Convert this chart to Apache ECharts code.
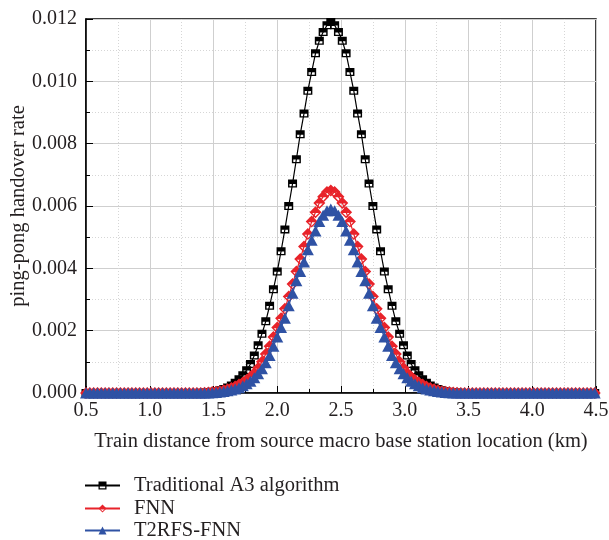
<!DOCTYPE html>
<html>
<head>
<meta charset="utf-8">
<script src="https://cdn.jsdelivr.net/npm/echarts@6/dist/echarts.min.js"></script>
<style>html,body{margin:0;padding:0;background:#fff;}#c{width:609px;height:540px;}</style>
</head>
<body>
<div id="c"></div>
<script>
const distance = [
0.50,0.53,0.56,0.59,0.62,0.65,0.68,0.71,0.74,0.77,
0.80,0.83,0.86,0.89,0.92,0.95,0.98,1.01,1.04,1.07,
1.10,1.13,1.16,1.19,1.22,1.25,1.28,1.31,1.34,1.37,
1.40,1.43,1.46,1.49,1.52,1.55,1.58,1.61,1.64,1.67,
1.70,1.73,1.76,1.79,1.82,1.85,1.88,1.91,1.94,1.97,
2.00,2.03,2.06,2.09,2.12,2.15,2.18,2.21,2.24,2.27,
2.30,2.33,2.36,2.39,2.42,2.45,2.48,2.51,2.54,2.57,
2.60,2.63,2.66,2.69,2.72,2.75,2.78,2.81,2.84,2.87,
2.90,2.93,2.96,2.99,3.02,3.05,3.08,3.11,3.14,3.17,
3.20,3.23,3.26,3.29,3.32,3.35,3.38,3.41,3.44,3.47,
3.50,3.53,3.56,3.59,3.62,3.65,3.68,3.71,3.74,3.77,
3.80,3.83,3.86,3.89,3.92,3.95,3.98,4.01,4.04,4.07,
4.10,4.13,4.16,4.19,4.22,4.25,4.28,4.31,4.34,4.37,
4.40,4.43,4.46,4.49];

const traditionalA3 = [
0,0,0,0,0,0,0,0,0,0,
0,0,0,0,0,0,0,0,0,0,
0,0,0,0,0,0,0,0,0,0,
0.00001,0.00002,0.00003,0.00004,0.00006,0.00009,0.00013,0.00018,0.00024,0.00033,
0.00044,0.00057,0.00073,0.00093,0.00120,0.00153,0.00190,0.00230,0.00280,0.00333,
0.00390,0.00455,0.00525,0.00600,0.00672,0.00750,0.00830,0.00897,0.00970,0.01030,
0.01090,0.01130,0.01158,0.01180,0.01190,0.01180,0.01158,0.01130,0.01090,0.01030,
0.00970,0.00897,0.00830,0.00750,0.00672,0.00600,0.00525,0.00455,0.00390,0.00333,
0.00280,0.00230,0.00190,0.00153,0.00120,0.00093,0.00073,0.00057,0.00044,0.00033,
0.00024,0.00018,0.00013,0.00009,0.00006,0.00004,0.00003,0.00002,0.00001,0,
0,0,0,0,0,0,0,0,0,0,
0,0,0,0,0,0,0,0,0,0,
0,0,0,0,0,0,0,0,0,0,
0,0,0,0];

const fnn = [
0,0,0,0,0,0,0,0,0,0,
0,0,0,0,0,0,0,0,0,0,
0,0,0,0,0,0,0,0,0,0,
0,0.00001,0.00002,0.00003,0.00004,0.00006,0.00009,0.00012,0.00016,0.00021,
0.00027,0.00034,0.00042,0.00052,0.00063,0.00080,0.00100,0.00125,0.00150,0.00180,
0.00210,0.00240,0.00270,0.00310,0.00350,0.00390,0.00430,0.00470,0.00510,0.00550,
0.00580,0.00610,0.00630,0.00645,0.00650,0.00645,0.00630,0.00610,0.00580,0.00550,
0.00510,0.00470,0.00430,0.00390,0.00350,0.00310,0.00270,0.00240,0.00210,0.00180,
0.00150,0.00125,0.00100,0.00080,0.00063,0.00052,0.00042,0.00034,0.00027,0.00021,
0.00016,0.00012,0.00009,0.00006,0.00004,0.00003,0.00002,0.00001,0,0,
0,0,0,0,0,0,0,0,0,0,
0,0,0,0,0,0,0,0,0,0,
0,0,0,0,0,0,0,0,0,0,
0,0,0,0];

const t2rfsFnn = [
0,0,0,0,0,0,0,0,0,0,
0,0,0,0,0,0,0,0,0,0,
0,0,0,0,0,0,0,0,0,0,
0,0,0,0.00001,0.00002,0.00003,0.00005,0.00007,0.00010,0.00013,
0.00017,0.00023,0.00030,0.00038,0.00049,0.00062,0.00078,0.00097,0.00120,0.00150,
0.00180,0.00210,0.00240,0.00280,0.00320,0.00360,0.00390,0.00420,0.00460,0.00490,
0.00520,0.00550,0.00570,0.00585,0.00590,0.00585,0.00570,0.00550,0.00520,0.00490,
0.00460,0.00420,0.00390,0.00360,0.00320,0.00280,0.00240,0.00210,0.00180,0.00150,
0.00120,0.00097,0.00078,0.00062,0.00049,0.00038,0.00030,0.00023,0.00017,0.00013,
0.00010,0.00007,0.00005,0.00003,0.00002,0.00001,0,0,0,0,
0,0,0,0,0,0,0,0,0,0,
0,0,0,0,0,0,0,0,0,0,
0,0,0,0,0,0,0,0,0,0,
0,0,0,0];

const seriesNames = ['Traditional A3 algorithm', 'FNN', 'T2RFS-FNN'];

const FONT = 'Liberation Serif';
const TXT = '#231f20';
const BLACK = '#000000';
const RED = '#e8232a';
const BLUE = '#2f52a4';

function pairs(ys) { return distance.map((x, i) => [x, ys[i]]); }

const halfSquare = 'path://M0,0 L10,0 L10,10 L0,10 Z M1.6,5.4 L1.6,8.4 L8.4,8.4 L8.4,5.4 Z';
const halfDiamond = 'path://M5,0 L10,5 L5,10 L0,5 Z M2.2,5.6 L5,8.4 L7.8,5.6 Z';

const legendRowsTop = [475, 498, 520];
function legendRow(name, i) {
  return {
    orient: 'horizontal', left: 84, top: legendRowsTop[i], padding: 0,
    itemWidth: 35, itemHeight: 10,
    textStyle: {fontFamily: FONT, fontSize: 20.5, color: TXT, padding: [0, 0, 0, 9]},
    data: [name]
  };
}

const chart = echarts.init(document.getElementById('c'), null, {renderer: 'canvas'});
chart.setOption({
  animation: false,
  backgroundColor: '#fff',
  textStyle: {fontFamily: FONT, color: TXT},
  grid: {left: 86, right: 13, top: 19, bottom: 147, show: true, borderColor: '#000', borderWidth: 1.5,
         backgroundColor: 'transparent', containLabel: false, outerBoundsMode: 'none'},
  xAxis: {
    type: 'value', min: 0.5, max: 4.5, interval: 0.5,
    name: 'Train distance from source macro base station location (km)',
    nameLocation: 'middle', nameGap: 38, nameMoveOverlap: false,
    nameTextStyle: {fontFamily: FONT, fontSize: 20.5, color: TXT},
    axisLine: {show: true, lineStyle: {color: '#000', width: 1.5}},
    axisTick: {show: true, inside: true, length: 7, lineStyle: {color: '#000'}},
    minorTick: {show: true, splitNumber: 2, length: 4, lineStyle: {color: '#000'}},
    axisLabel: {fontFamily: FONT, fontSize: 20, color: TXT, margin: 8, formatter: v => v.toFixed(1)},
    splitLine: {show: true, lineStyle: {color: '#cfcfcf', width: 1}},
    minorSplitLine: {show: true, lineStyle: {color: '#d6d6d6', width: 1, type: [1, 2]}}
  },
  yAxis: {
    type: 'value', min: 0, max: 0.012, interval: 0.002,
    name: 'ping-pong handover rate',
    nameLocation: 'middle', nameGap: 57, nameMoveOverlap: false,
    nameTextStyle: {fontFamily: FONT, fontSize: 20.5, color: TXT},
    axisLine: {show: true, lineStyle: {color: '#000', width: 1.5}},
    axisTick: {show: true, inside: true, length: 7, lineStyle: {color: '#000'}},
    minorTick: {show: true, splitNumber: 2, length: 4, lineStyle: {color: '#000'}},
    axisLabel: {fontFamily: FONT, fontSize: 20, color: TXT, margin: 9, formatter: v => v.toFixed(3)},
    splitLine: {show: true, lineStyle: {color: '#cfcfcf', width: 1}},
    minorSplitLine: {show: true, lineStyle: {color: '#d6d6d6', width: 1, type: [1, 2]}}
  },
  legend: seriesNames.map(legendRow),
  series: [
    {
      name: seriesNames[0], type: 'line', data: pairs(traditionalA3),
      symbol: halfSquare, symbolSize: [9, 8], showAllSymbol: true,
      lineStyle: {color: BLACK, width: 1.2}, itemStyle: {color: BLACK},
      z: 2
    },
    {
      name: seriesNames[1], type: 'line', data: pairs(fnn),
      symbol: halfDiamond, symbolSize: [12, 12], showAllSymbol: true,
      lineStyle: {color: RED, width: 1.2}, itemStyle: {color: RED},
      z: 3
    },
    {
      name: seriesNames[2], type: 'line', data: pairs(t2rfsFnn),
      symbol: 'triangle', symbolSize: [12, 11], showAllSymbol: true,
      lineStyle: {color: BLUE, width: 1.2}, itemStyle: {color: BLUE},
      z: 4
    }
  ]
});
</script>
</body>
</html>
